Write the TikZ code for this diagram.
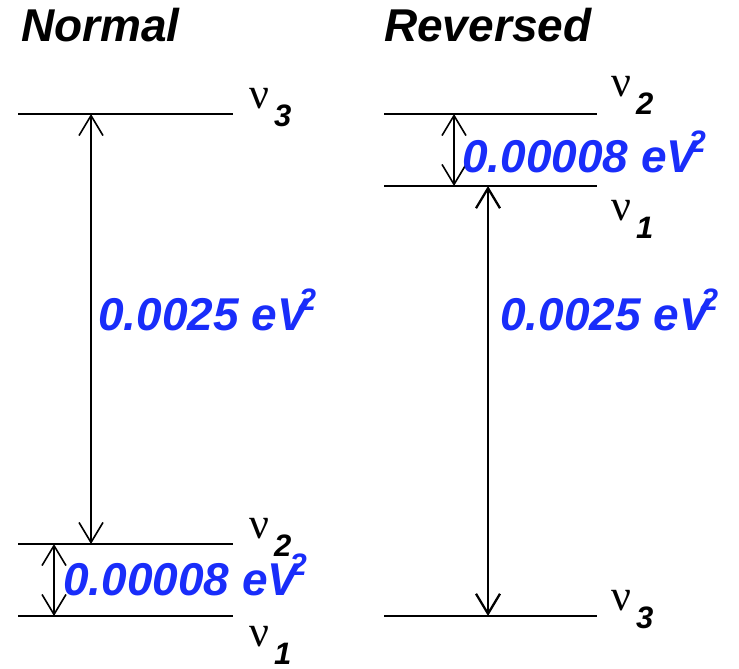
\documentclass[tikz,border=0pt]{standalone}
\usepackage{fontspec}
\setmainfont{Liberation Sans}
\newfontfamily\nufont{Liberation Serif}
\usetikzlibrary{arrows.meta,positioning}
\definecolor{splitblue}{RGB}{25,45,250}

\newcommand{\nulabel}[1]{{\nufont\fontsize{44}{44}\selectfont ν}\kern5pt\raisebox{-18pt}{\fontsize{31}{31}\selectfont\bfseries\itshape #1}}
\newcommand{\splitlabel}[1]{#1 eV\kern-9pt\raisebox{20pt}{\fontsize{31}{31}\selectfont 2}}

\tikzset{
  level/.style={line width=1.9pt},
  gap/.style={line width=1.6pt, {Straight Barb[length=20pt,width=24pt]}-{Straight Barb[length=20pt,width=24pt]}},
  title/.style={anchor=base west, inner sep=0pt, font=\fontsize{46}{46}\selectfont\bfseries\itshape},
  split/.style={anchor=base west, inner sep=0pt, text=splitblue, font=\fontsize{46}{46}\selectfont\bfseries\itshape},
  mass/.style={anchor=base west, inner sep=0pt}
}

\begin{document}
\begin{tikzpicture}[x=1pt, y=-1pt]
        \useasboundingbox (0,0) rectangle (739,669);

        % Titles
        \node[title] (normal) at (21,42) {Normal};
        \node[title] (reversed) at (384,42) {Reversed};

        % Normal ordering levels
        \coordinate (n3l) at (18,114);  \coordinate (n3r) at (233,114);
        \coordinate (n2l) at (18,544);  \coordinate (n2r) at (233,544);
        \coordinate (n1l) at (18,616);  \coordinate (n1r) at (233,616);
        \draw[level] (n3l) -- (n3r);
        \draw[level] (n2l) -- (n2r);
        \draw[level] (n1l) -- (n1r);

        \coordinate (n3a) at (91,114);  \coordinate (n2a) at (91,544);
        \coordinate (n2b) at (54,544);  \coordinate (n1b) at (54,616);
        \draw[gap] (n2a) -- (n3a);
        \draw[gap] (n1b) -- (n2b);

        \node[mass] (nu3n) at (249,108) {\nulabel{3}};
        \node[mass] (nu2n) at (249,538) {\nulabel{2}};
        \node[mass] (nu1n) at (249,646) {\nulabel{1}};

        \node[split] (atmn) at (98,330) {\splitlabel{0.0025}};
        \node[split] (soln) at (63,595) {\splitlabel{0.00008}};

        % Reversed ordering levels
        \coordinate (r2l) at (384,114);  \coordinate (r2r) at (597,114);
        \coordinate (r1l) at (384,186);  \coordinate (r1r) at (597,186);
        \coordinate (r3l) at (384,616);  \coordinate (r3r) at (597,616);
        \draw[level] (r2l) -- (r2r);
        \draw[level] (r1l) -- (r1r);
        \draw[level] (r3l) -- (r3r);

        \coordinate (r2a) at (454,114);  \coordinate (r1a) at (454,186);
        \coordinate (r1b) at (488,186);  \coordinate (r3b) at (488,616);
        \draw[gap] (r1a) -- (r2a);
        \draw[gap, line width=2.3pt] (r3b) -- (r1b);

        \node[mass] (nu2r) at (611,96) {\nulabel{2}};
        \node[mass] (nu1r) at (611,220) {\nulabel{1}};
        \node[mass] (nu3r) at (611,610) {\nulabel{3}};

        \node[split] (atmr) at (500,330) {\splitlabel{0.0025}};
        \node[split] (solr) at (462,172) {\splitlabel{0.00008}};
\end{tikzpicture}
\end{document}
